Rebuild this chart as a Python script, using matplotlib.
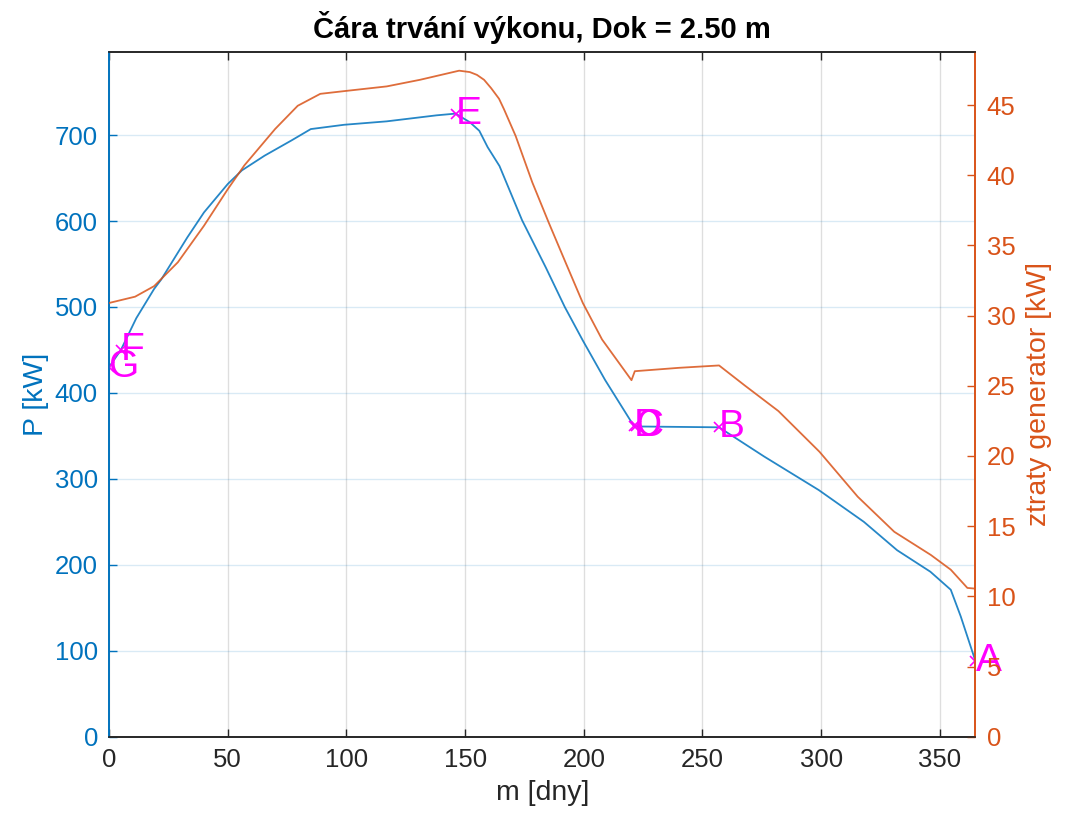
import matplotlib
matplotlib.use("Agg")
import matplotlib.pyplot as plt

# ---- data ----
days_P = [0, 5, 11.5, 19, 22, 33, 40, 50, 56, 65.5, 77, 85, 99, 117, 138, 146,
          152, 156, 159.5, 164.5, 174, 184, 192, 199.6, 209, 221, 222, 257,
          276, 299, 318, 332, 346, 354.6, 358.8, 365]
P_kW = [430, 450, 487, 521, 532, 581, 610, 643, 659, 676, 694, 707, 712, 716, 723, 725,
        715, 705, 686, 664, 601, 546, 500, 461, 415, 362, 361, 360,
        326, 287, 250, 217, 192, 171, 140, 88]

days_L = [0, 11, 19, 29, 40, 50, 57, 70, 79.5, 89, 99.4, 117, 131, 147.5, 152, 155,
          158, 161, 164.3, 166.4, 171.3, 178.3, 185.3, 192.3, 199.6, 207.7, 214.8,
          220.1, 221.5, 240, 257, 268, 282, 299.3, 315.4, 330.8, 346.2, 354.6,
          361.6, 365]
loss_kW = [30.9, 31.35, 32.1, 33.8, 36.4, 39.0, 40.7, 43.3, 44.95, 45.8, 46.0, 46.33,
           46.8, 47.45, 47.35, 47.15, 46.8, 46.2, 45.45, 44.7, 42.8, 39.5, 36.6, 33.8,
           30.9, 28.3, 26.64, 25.4, 26.04, 26.28, 26.45, 25.0, 23.2, 20.3, 17.1, 14.6,
           12.95, 11.9, 10.6, 10.55]

pt_labels = ['A', 'B', 'C', 'D', 'E', 'F', 'G']
pt_days = [365, 257, 222, 221, 146, 5, 0]
pt_P = [88, 360, 361, 362, 725, 450, 430]

x_ticks = [0, 50, 100, 150, 200, 250, 300, 350]
yl_ticks = [0, 100, 200, 300, 400, 500, 600, 700]
yr_ticks = [0, 5, 10, 15, 20, 25, 30, 35, 40, 45]

# ---- style ----
plt.rcParams['font.family'] = ['Liberation Sans', 'DejaVu Sans']
BLUE = '#0072BD'
ORANGE = '#D95319'
DARK = '#262626'
MAG = '#FF00FF'

fig = plt.figure(figsize=(10.75, 8.25), dpi=100)
ax = fig.add_axes([0.1014, 0.1070, 0.8060, 0.8303])
ax2 = ax.twinx()

ax.plot(days_P, P_kW, color=BLUE, lw=1.3, alpha=0.85, zorder=3)
ax2.plot(days_L, loss_kW, color=ORANGE, lw=1.3, alpha=0.85, zorder=3)

ax.plot(pt_days, pt_P, linestyle='none', marker='x', color=MAG, ms=7, mew=1.2, zorder=4)
for lab, d, p in zip(pt_labels, pt_days, pt_P):
    ax.text(d, p, lab, color=MAG, fontsize=28, ha='left', va='center', zorder=5)

ax.set_xlim(0, 365)
ax.set_ylim(0, 797)
ax2.set_ylim(0, 48.8)
ax.set_xticks(x_ticks)
ax.set_yticks(yl_ticks)
ax2.set_yticks(yr_ticks)

ax.grid(axis='x', color=DARK, alpha=0.15, lw=1.0)
ax.grid(axis='y', color=BLUE, alpha=0.15, lw=1.0)
ax.set_axisbelow(True)

for a in (ax, ax2):
    a.spines['top'].set_color(DARK)
    a.spines['bottom'].set_color(DARK)
    a.spines['left'].set_color(BLUE)
    a.spines['right'].set_color(ORANGE)
    for s in a.spines.values():
        s.set_linewidth(1.2)

ax.tick_params(axis='x', direction='in', length=6, width=1, colors=DARK,
               labelsize=18.5, top=True, pad=8)
ax.tick_params(axis='y', direction='in', length=6, width=1, colors=BLUE,
               labelsize=18.5, pad=8)
ax2.tick_params(axis='y', direction='in', length=6, width=1, colors=ORANGE,
                labelsize=18.5, pad=8)

ax.set_xlabel('m [dny]', fontsize=20.5, color=DARK, labelpad=6)
ax.set_ylabel('P [kW]', fontsize=20.5, color=BLUE, labelpad=4)
ax2.set_ylabel('ztraty generator [kW]', fontsize=20.5, color=ORANGE, labelpad=8)
ax.set_title('Čára trvání výkonu, Dok = 2.50 m', fontsize=21, fontweight='bold',
             color='black', pad=10)

fig.savefig('out.png', dpi=100)
